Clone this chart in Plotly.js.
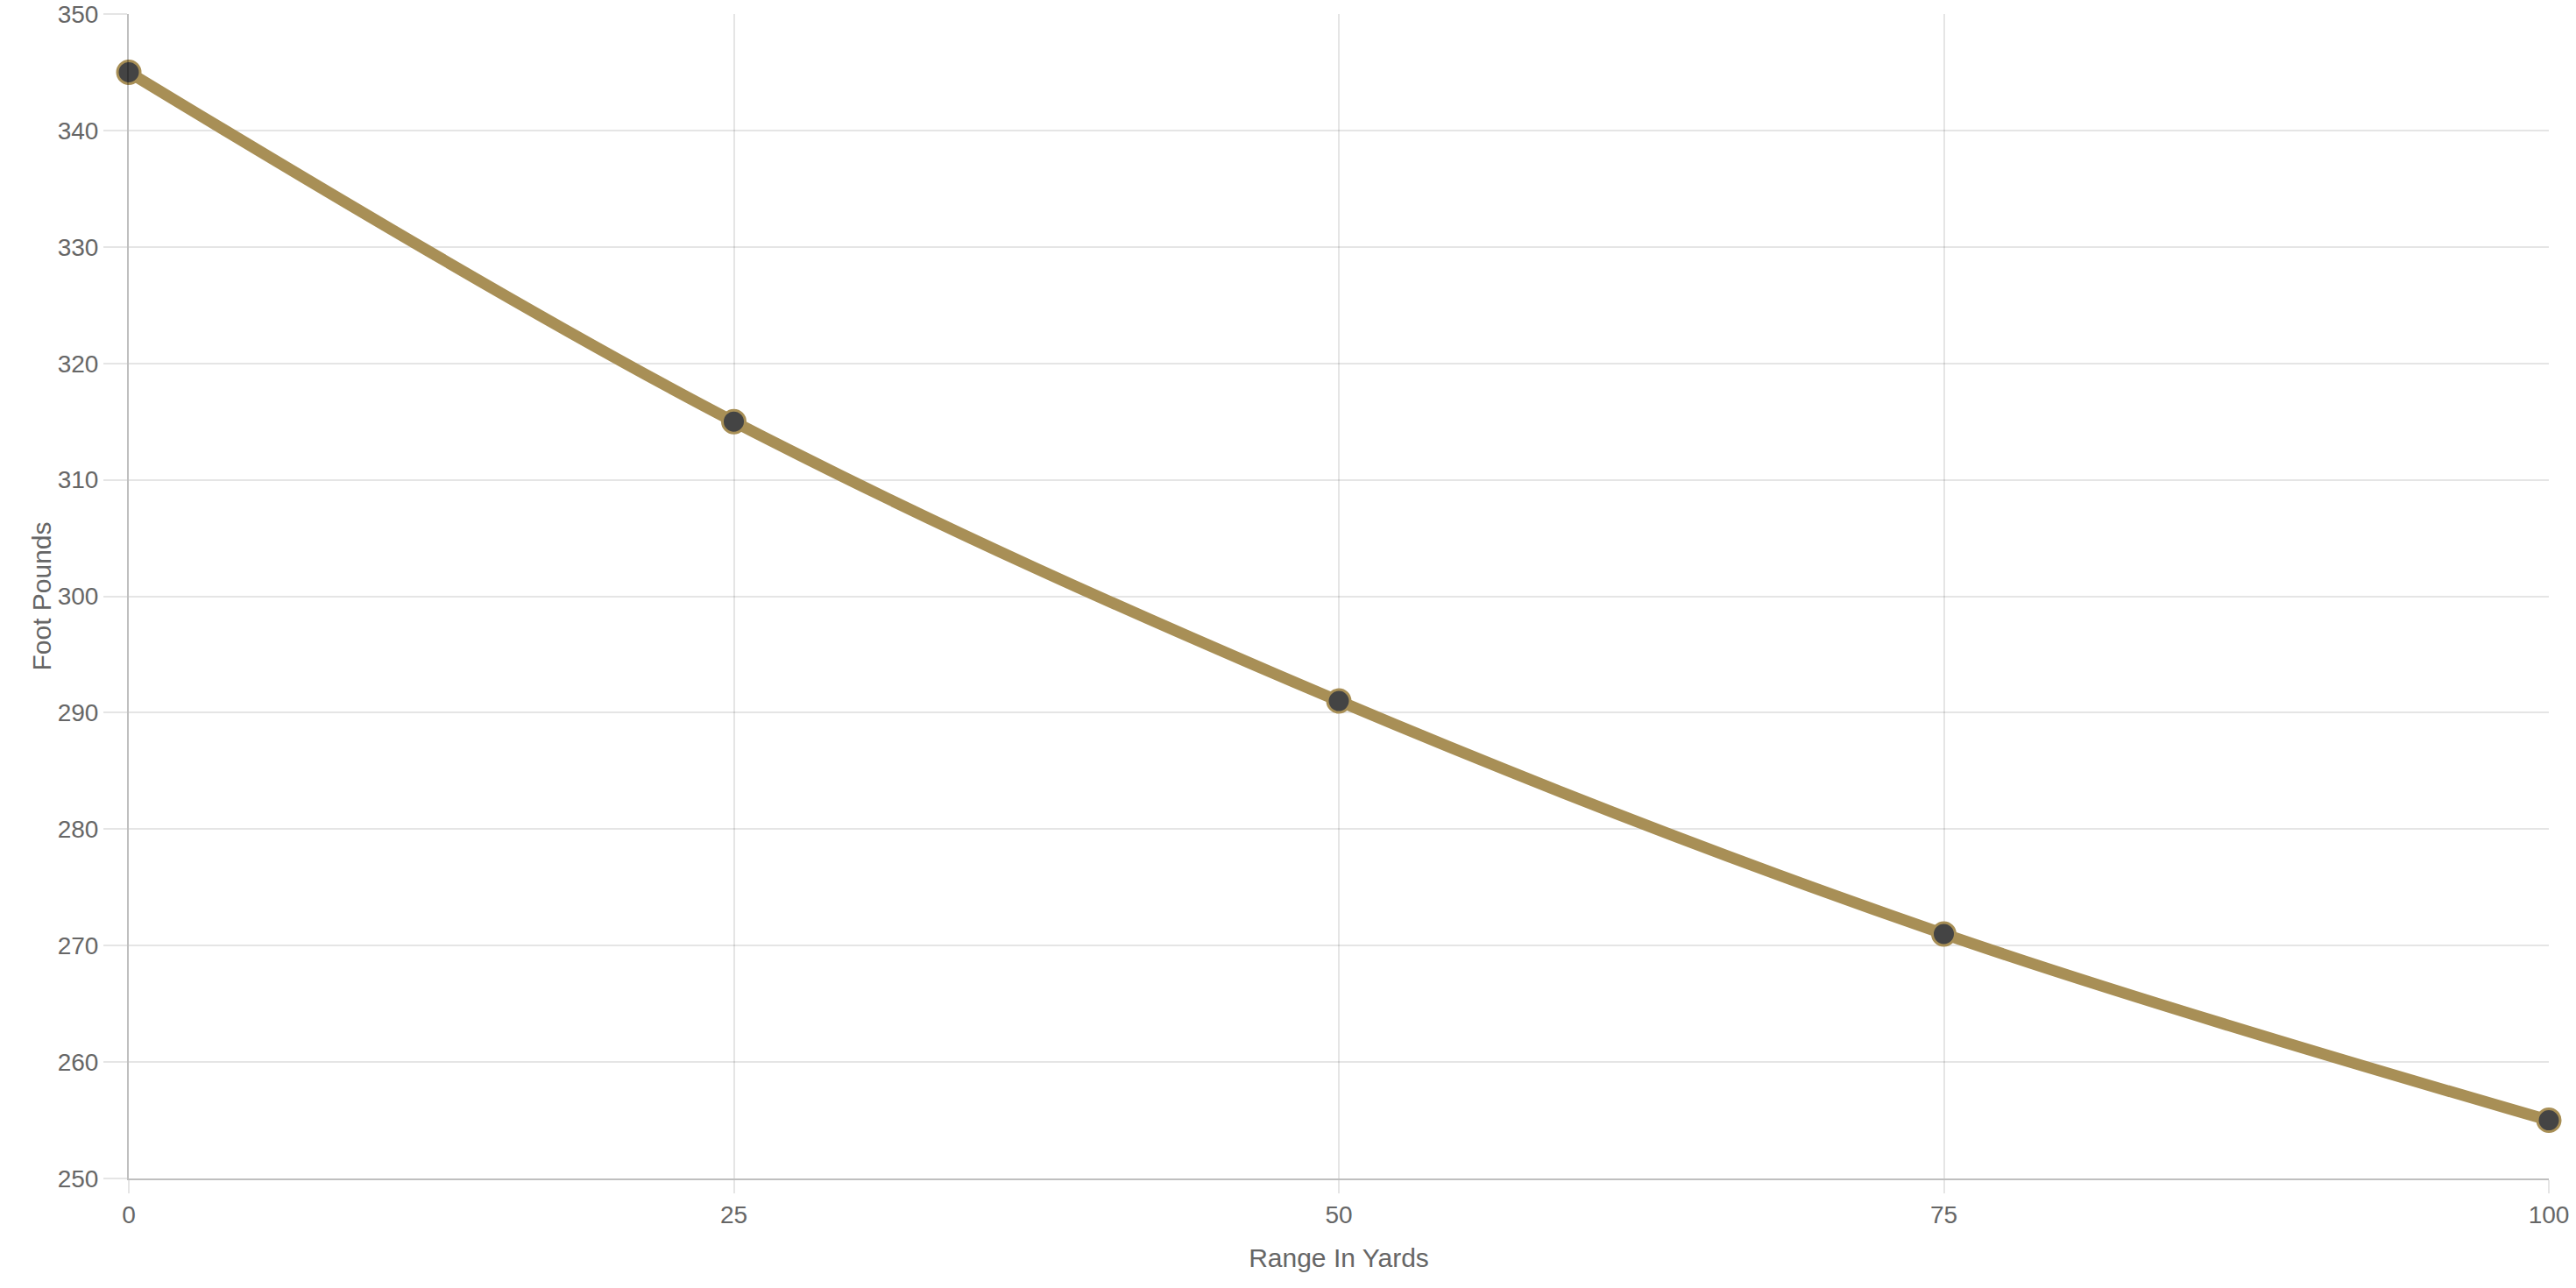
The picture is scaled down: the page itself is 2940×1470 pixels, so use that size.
<!DOCTYPE html>
<html>
<head>
<meta charset="utf-8">
<script src="https://cdn.plot.ly/plotly-3.0.1.min.js"></script>
<style>
  html, body { margin: 0; padding: 0; background: #fff; }
  #chart { width: 2940px; height: 1470px; }
</style>
</head>
<body>
<div id="chart"></div>
<script>
// energy drop-off readings, one per range step
const rangeYards = [0, 25, 50, 75, 100];
const footPounds = [345, 315, 291, 271, 255];
const xTicks = [0, 25, 50, 75, 100];
const yTicks = [250, 260, 270, 280, 290, 300, 310, 320, 330, 340, 350];
const xTitle = 'Range In Yards';
const yTitle = 'Foot Pounds';

const gold = '#a88f56';
const gridCol = 'rgba(0,0,0,0.1)';
const textCol = '#666';
const fontFam = 'Arial, "Liberation Sans", Helvetica, sans-serif';

const traces = [{
    x: rangeYards,
    y: footPounds,
    mode: 'lines+markers',
    line: {color: gold, width: 13, shape: 'spline', smoothing: 1},
    marker: {color: '#444', size: 26, line: {color: gold, width: 3}},
    cliponaxis: false,
    hoverinfo: 'skip'
}];

const layout = {
    width: 2940,
    height: 1470,
    margin: {l: 147, r: 31, t: 16, b: 125},
    paper_bgcolor: '#fff',
    plot_bgcolor: '#fff',
    showlegend: false,
    font: {family: fontFam, color: textCol, size: 28},
    xaxis: {
        range: [0, 100],
        tickvals: xTicks,
        ticktext: xTicks.map(String),
        automargin: false,
        showgrid: true,
        gridcolor: gridCol,
        gridwidth: 2,
        zeroline: false,
        showline: true,
        linecolor: 'rgba(0,0,0,0.25)',
        linewidth: 2,
        ticks: 'outside',
        ticklen: 15,
        tickwidth: 2,
        tickcolor: gridCol,
        ticklabeloverflow: 'allow',
        tickfont: {size: 28, color: textCol},
        title: {text: xTitle, font: {size: 30, color: textCol}}
    },
    yaxis: {
        range: [250, 350],
        tickvals: yTicks,
        ticktext: yTicks.map(String),
        automargin: false,
        showgrid: true,
        gridcolor: gridCol,
        gridwidth: 2,
        zeroline: false,
        showline: true,
        linecolor: 'rgba(0,0,0,0.25)',
        linewidth: 2,
        ticks: 'outside',
        ticklen: 27,
        tickwidth: 2,
        tickcolor: gridCol,
        ticklabeloverflow: 'allow',
        tickfont: {size: 28, color: textCol},
        title: {text: yTitle, font: {size: 30, color: textCol}}
    }
};

Plotly.newPlot('chart', traces, layout, {staticPlot: true, displayModeBar: false});
</script>
</body>
</html>
